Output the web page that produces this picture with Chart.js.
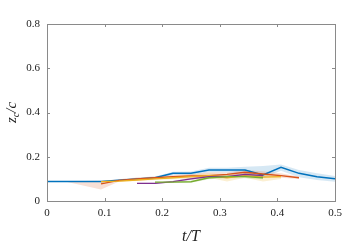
<!DOCTYPE html>
<html>
<head>
<meta charset="utf-8">
<script src="https://cdn.jsdelivr.net/npm/chart.js@4"></script>
<style>
  html, body { margin: 0; padding: 0; background: #fff; }
  canvas { display: block; }
</style>
</head>
<body>
<canvas id="myChart" width="359" height="249"></canvas>
<script>
// temps adimensionnel t/T
const tT = [0, 0.03125, 0.0625, 0.09375, 0.125, 0.15625, 0.1875, 0.21875, 0.25,
  0.28125, 0.3125, 0.34375, 0.375, 0.40625, 0.4375, 0.46875, 0.5];

// zc/c moyen + enveloppe (bas / haut) par cas
const blueMean = [0.088, 0.088, 0.088, 0.088, 0.094, 0.1, 0.105, 0.125, 0.125, 0.14, 0.14, 0.14, 0.118, 0.152, 0.125, 0.11, 0.1];
const blueLo   = [0.088, 0.088, 0.088, 0.088, 0.09, 0.095, 0.099, 0.118, 0.117, 0.13, 0.13, 0.125, 0.105, 0.137, 0.107, 0.095, 0.087];
const blueHi   = [0.088, 0.088, 0.088, 0.088, 0.098, 0.105, 0.111, 0.132, 0.133, 0.15, 0.15, 0.155, 0.158, 0.165, 0.14, 0.125, 0.113];

const orangeMean = [null, null, null, 0.077, 0.093, 0.1, 0.105, 0.11, 0.113, 0.115, 0.12, 0.13, 0.122, 0.115, 0.105, null, null];
const orangeLo   = [null, 0.088, 0.07, 0.052, 0.088, 0.094, 0.099, 0.103, 0.105, 0.1, 0.11, 0.115, 0.108, 0.105, 0.1, null, null];
const orangeHi   = [null, 0.088, 0.09, 0.092, 0.098, 0.106, 0.111, 0.117, 0.121, 0.13, 0.13, 0.14, 0.135, 0.125, 0.11, null, null];

const yellowMean = [null, null, null, 0.088, 0.09, 0.095, 0.1, 0.105, 0.11, 0.115, 0.105, 0.115, 0.108, 0.11, null, null, null];
const yellowLo   = [null, null, null, 0.088, 0.087, 0.09, 0.095, 0.098, 0.1, 0.105, 0.088, 0.105, 0.088, 0.1, null, null, null];
const yellowHi   = [null, null, null, 0.088, 0.093, 0.1, 0.105, 0.112, 0.12, 0.125, 0.118, 0.125, 0.12, 0.118, null, null, null];

const purpleMean = [null, null, null, null, null, 0.08, 0.08, 0.088, 0.1, 0.11, 0.11, 0.12, 0.115, null, null, null, null];
const purpleLo   = [null, null, null, null, null, 0.078, 0.077, 0.084, 0.095, 0.104, 0.104, 0.112, 0.108, null, null, null, null];
const purpleHi   = [null, null, null, null, null, 0.082, 0.083, 0.092, 0.105, 0.116, 0.116, 0.128, 0.122, null, null, null, null];

const greenMean = [null, null, null, null, null, null, 0.085, 0.085, 0.087, 0.105, 0.11, 0.11, 0.105, null, null, null, null];
const greenLo   = [null, null, null, null, null, null, 0.083, 0.082, 0.083, 0.098, 0.103, 0.103, 0.098, null, null, null, null];
const greenHi   = [null, null, null, null, null, null, 0.087, 0.088, 0.091, 0.112, 0.117, 0.117, 0.112, null, null, null, null];

const xTicks = [0, 0.1, 0.2, 0.3, 0.4, 0.5];
const yTicks = [0, 0.2, 0.4, 0.6, 0.8];

const serif = "'Liberation Serif', 'DejaVu Serif', serif";

function pts(arr) {
  return tT.map((t, i) => ({ x: t, y: arr[i] }));
}

// une enveloppe = 2 datasets (bas sans remplissage, haut rempli vers '-1') + la courbe moyenne
function serie(mean, lo, hi, color, fillColor, width) {
  return [
    { data: pts(lo), borderWidth: 0, pointRadius: 0, fill: false, order: 3, spanGaps: false },
    { data: pts(hi), borderWidth: 0, pointRadius: 0, fill: "-1", backgroundColor: fillColor, order: 3, spanGaps: false },
    { data: pts(mean), borderColor: color, borderWidth: width, pointRadius: 0, fill: false, order: 1, spanGaps: false }
  ];
}

const datasets = [].concat(
  serie(greenMean, greenLo, greenHi, "#77AC30", "rgba(119,172,48,0.18)", 1.3),
  serie(purpleMean, purpleLo, purpleHi, "#7E2F8E", "rgba(126,47,142,0.15)", 1.3),
  serie(yellowMean, yellowLo, yellowHi, "#EDB120", "rgba(237,177,32,0.2)", 1.3),
  serie(orangeMean, orangeLo, orangeHi, "#D95319", "rgba(217,83,25,0.18)", 1.3),
  serie(blueMean, blueLo, blueHi, "#0072BD", "rgba(0,114,189,0.16)", 1.5)
);

// cadre + ticks vers l'intérieur + titres des axes (façon MATLAB)
const boxPlugin = {
  id: "box",
  afterDraw(chart) {
    const ctx = chart.ctx;
    const a = chart.chartArea;
    const sx = chart.scales.x, sy = chart.scales.y;
    ctx.save();
    ctx.strokeStyle = "#8a8a8a";
    ctx.lineWidth = 1;
    ctx.strokeRect(Math.round(a.left) + 0.5, Math.round(a.top) + 0.5,
      Math.round(a.right - a.left), Math.round(a.bottom - a.top));
    ctx.beginPath();
    xTicks.forEach(v => {
      const px = Math.round(sx.getPixelForValue(v)) + 0.5;
      ctx.moveTo(px, a.bottom); ctx.lineTo(px, a.bottom - 3);
      ctx.moveTo(px, a.top); ctx.lineTo(px, a.top + 3);
    });
    yTicks.forEach(v => {
      const py = Math.round(sy.getPixelForValue(v)) + 0.5;
      ctx.moveTo(a.left, py); ctx.lineTo(a.left + 3, py);
      ctx.moveTo(a.right, py); ctx.lineTo(a.right - 3, py);
    });
    ctx.stroke();

    ctx.fillStyle = "#222";
    // titre x : t/T
    ctx.font = "italic 16px " + serif;
    ctx.textAlign = "center";
    ctx.textBaseline = "middle";
    ctx.fillText("t/T", (a.left + a.right) / 2, 237);

    // titre y : z_c/c (tourné)
    ctx.translate(12, (a.top + a.bottom) / 2);
    ctx.rotate(-Math.PI / 2);
    ctx.textAlign = "left";
    ctx.font = "italic 15px " + serif;
    const w1 = ctx.measureText("z").width;
    ctx.font = "italic 10px " + serif;
    const w2 = ctx.measureText("c").width;
    ctx.font = "italic 15px " + serif;
    const w3 = ctx.measureText("/c").width;
    let x0 = -(w1 + w2 + w3) / 2;
    ctx.fillText("z", x0, 0);
    ctx.font = "italic 10px " + serif;
    ctx.fillText("c", x0 + w1, 4);
    ctx.font = "italic 15px " + serif;
    ctx.fillText("/c", x0 + w1 + w2, 0);
    ctx.restore();
  }
};

function fmt(v) {
  return Number(v.toFixed(2)).toString();
}

const config = {
  type: "line",
  data: { datasets: datasets },
  options: {
    responsive: false,
    animation: false,
    devicePixelRatio: 1,
    layout: { padding: { left: 0, right: 24, top: 24, bottom: 0 } },
    plugins: { legend: { display: false }, tooltip: { enabled: false } },
    scales: {
      x: {
        type: "linear",
        min: 0,
        max: 0.5,
        grid: { display: false, drawTicks: false },
        border: { display: false },
        afterBuildTicks: s => { s.ticks = xTicks.map(v => ({ value: v })); },
        afterFit: s => { s.height = 48; },
        ticks: { padding: 6, color: "#222", font: { family: serif, size: 11 }, callback: fmt, maxRotation: 0 }
      },
      y: {
        type: "linear",
        min: 0,
        max: 0.8,
        grid: { display: false, drawTicks: false },
        border: { display: false },
        afterBuildTicks: s => { s.ticks = yTicks.map(v => ({ value: v })); },
        afterFit: s => { s.width = 47; },
        ticks: { padding: 7, color: "#222", font: { family: serif, size: 11 }, callback: fmt }
      }
    }
  },
  plugins: [boxPlugin]
};

const context = document.getElementById("myChart").getContext("2d");
const chart = new Chart(context, config);
</script>
</body>
</html>
